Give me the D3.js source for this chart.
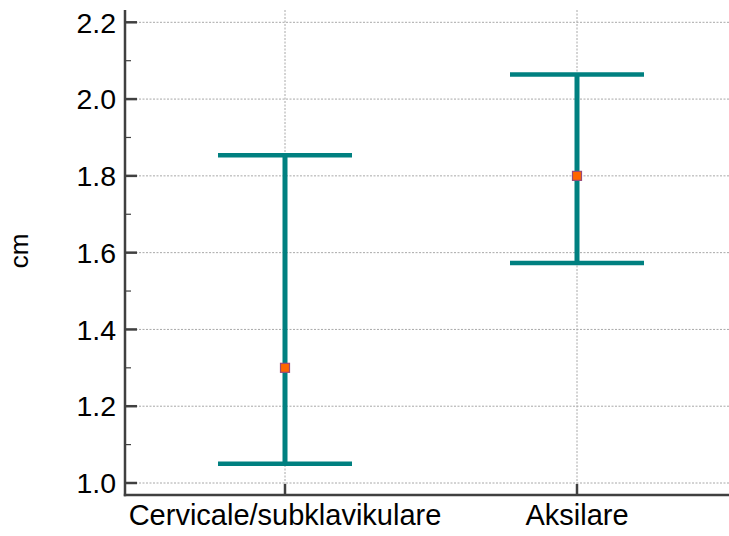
<!DOCTYPE html>
<html>
<head>
<meta charset="utf-8">
<script src="https://cdn.jsdelivr.net/npm/d3@7"></script>
<style>
  html, body { margin: 0; padding: 0; background: #fff; }
  svg { display: block; font-family: "Liberation Sans", Arial, sans-serif; }
</style>
</head>
<body>
<svg id="chart" width="729" height="536"></svg>
<script>
// Groups on the x axis
const categories = ["Cervicale/subklavikulare", "Aksilare"];
// Central value and interval bounds per group (cm)
const means = [1.30, 1.80];
const lowers = [1.05, 1.573];
const uppers = [1.854, 2.064];
// Y axis labelling
const majorTicks = [1.0, 1.2, 1.4, 1.6, 1.8, 2.0, 2.2];
const minorTicks = [1.1, 1.3, 1.5, 1.7, 1.9, 2.1];
const yLabel = "cm";

const svg = d3.select("#chart");
const plotLeft = 125, plotRight = 729, plotTop = 10, plotBottom = 495;

const y = d3.scaleLinear().domain([1.0, 2.2]).range([483, 22.3]);
const x = d3.scalePoint().domain(categories).range([139, 723]).padding(0.5);

const axisColor = "#404040";
const gridColor = "#a8a8a8";
const barColor = "#008080";

// dotted grid
svg.append("g").selectAll("line").data(majorTicks).join("line")
  .attr("x1", plotLeft).attr("x2", plotRight)
  .attr("y1", d => y(d)).attr("y2", d => y(d))
  .attr("stroke", gridColor).attr("stroke-width", 1).attr("stroke-dasharray", "2,1.5");
svg.append("g").selectAll("line").data(categories).join("line")
  .attr("x1", d => x(d)).attr("x2", d => x(d))
  .attr("y1", plotTop).attr("y2", plotBottom)
  .attr("stroke", gridColor).attr("stroke-width", 1).attr("stroke-dasharray", "2,1.5");

// y axis with inward ticks
const yAxis = svg.append("g");
yAxis.append("line").attr("x1", plotLeft).attr("x2", plotLeft).attr("y1", plotTop).attr("y2", plotBottom + 1.2)
  .attr("stroke", axisColor).attr("stroke-width", 2.5);
yAxis.append("g").selectAll("line").data(majorTicks).join("line")
  .attr("x1", plotLeft).attr("x2", plotLeft + 12).attr("y1", d => y(d)).attr("y2", d => y(d))
  .attr("stroke", axisColor).attr("stroke-width", 2.5);
yAxis.append("g").selectAll("line").data(minorTicks).join("line")
  .attr("x1", plotLeft).attr("x2", plotLeft + 6).attr("y1", d => y(d)).attr("y2", d => y(d))
  .attr("stroke", axisColor).attr("stroke-width", 1.2);
yAxis.append("g").selectAll("text").data(majorTicks).join("text")
  .attr("x", plotLeft - 9).attr("y", d => y(d)).attr("dy", "0.36em")
  .attr("text-anchor", "end").attr("font-size", 28.5).attr("fill", "#000")
  .text(d => d3.format(".1f")(d));

// x axis
const xAxis = svg.append("g");
xAxis.append("line").attr("x1", plotLeft - 1.2).attr("x2", plotRight).attr("y1", plotBottom).attr("y2", plotBottom)
  .attr("stroke", axisColor).attr("stroke-width", 2.5);
xAxis.append("g").selectAll("line").data(categories).join("line")
  .attr("x1", d => x(d)).attr("x2", d => x(d)).attr("y1", plotBottom).attr("y2", plotBottom - 11)
  .attr("stroke", axisColor).attr("stroke-width", 2.5);
xAxis.append("g").selectAll("text").data(categories).join("text")
  .attr("x", d => x(d)).attr("y", 525)
  .attr("text-anchor", "middle").attr("font-size", 29).attr("fill", "#000")
  .text(d => d);

// axis title
svg.append("text")
  .attr("transform", "translate(28,251) rotate(-90)")
  .attr("text-anchor", "middle").attr("font-size", 26).attr("fill", "#000")
  .text(yLabel);

// error bars
const capHalf = 67;
const bars = svg.append("g").selectAll("g").data(categories).join("g");
bars.append("line")
  .attr("x1", d => x(d)).attr("x2", d => x(d))
  .attr("y1", (d, i) => y(uppers[i])).attr("y2", (d, i) => y(lowers[i]))
  .attr("stroke", barColor).attr("stroke-width", 5);
bars.append("line")
  .attr("x1", d => x(d) - capHalf).attr("x2", d => x(d) + capHalf)
  .attr("y1", (d, i) => y(uppers[i])).attr("y2", (d, i) => y(uppers[i]))
  .attr("stroke", barColor).attr("stroke-width", 4.5);
bars.append("line")
  .attr("x1", d => x(d) - capHalf).attr("x2", d => x(d) + capHalf)
  .attr("y1", (d, i) => y(lowers[i])).attr("y2", (d, i) => y(lowers[i]))
  .attr("stroke", barColor).attr("stroke-width", 4.5);

// central markers
bars.append("rect")
  .attr("x", d => x(d) - 4.5).attr("y", (d, i) => y(means[i]) - 4.5)
  .attr("width", 9).attr("height", 9)
  .attr("fill", "#ff6600").attr("stroke", "#9a4a78").attr("stroke-width", 1.2);
</script>
</body>
</html>
